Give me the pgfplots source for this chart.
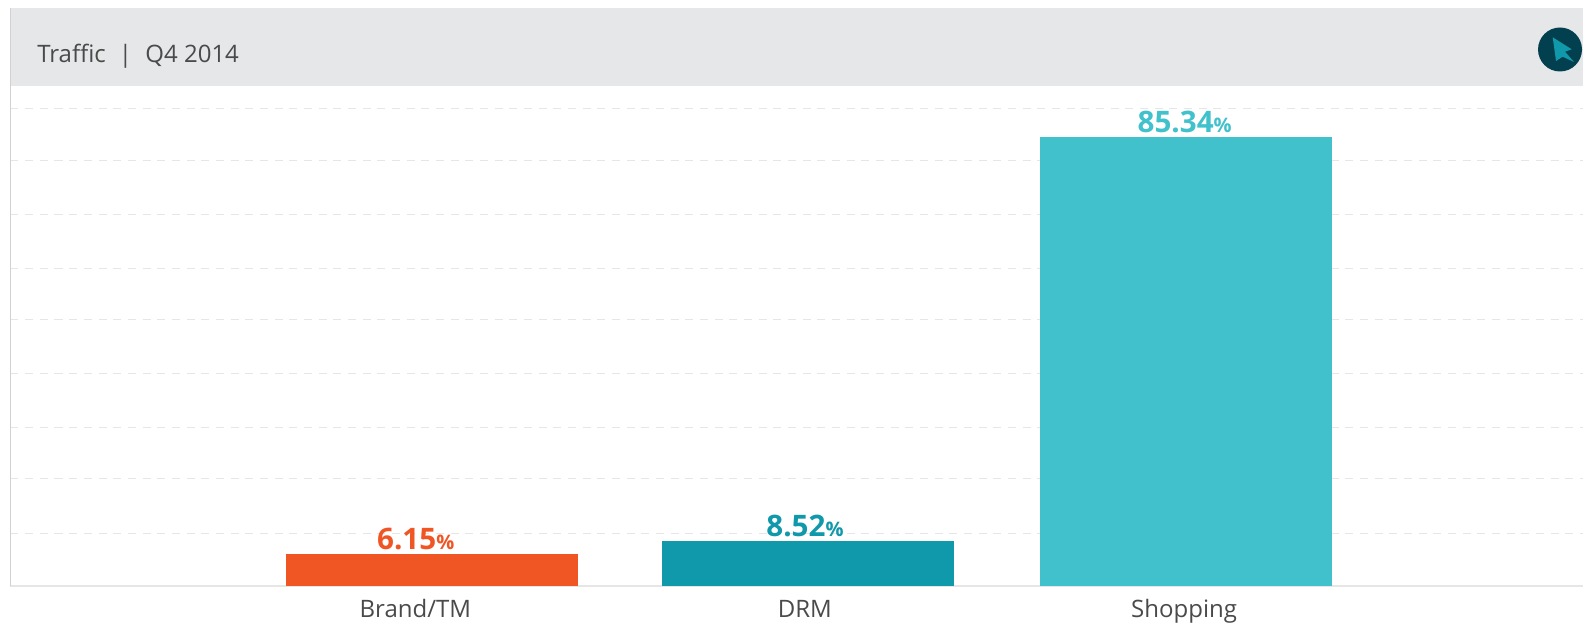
\documentclass[border=0pt]{standalone}
\usepackage{fontspec}
\setmainfont{Open Sans}
\usepackage{pgfplots}
\pgfplotsset{compat=1.18}
\definecolor{headerbg}{HTML}{E6E7E9}
\definecolor{brandc}{HTML}{F05524}
\definecolor{drmc}{HTML}{1098AB}
\definecolor{shopc}{HTML}{40C1CC}
\definecolor{inktext}{HTML}{4A4A4A}
\definecolor{gridc}{HTML}{E6E6E6}
\definecolor{badge}{HTML}{03404F}
% value label: large figures with a smaller percent sign
\newcommand{\pctlabel}{\fontsize{22.2}{24}\selectfont\bfseries
  \pgfmathprintnumber[fixed,fixed zerofill,precision=2,/pgf/number format/assume math mode=true]{\pgfplotspointmeta}%
  {\fontsize{15}{18}\selectfont\%}}
\begin{document}
\begin{tikzpicture}[x=0.75pt,y=0.75pt]
  \path[use as bounding box] (0,0) rectangle (1583,625);
  \begin{axis}[
    at={(7.875pt,29.25pt)}, anchor=south west,
    scale only axis,
    width=1179.375pt, height=375pt,
    xmin=-1.1180, xmax=3.0531,
    ymin=0, ymax=95.04,
    axis x line=bottom, axis y line=left,
    axis line style={-, draw=gridc, line width=1.1pt},
    xtick={-0.044,0.989,1.995},
    xticklabels={Brand/TM,DRM,Shopping},
    major tick length=0pt,
    xticklabel style={font=\fontsize{18}{21}\selectfont, text=inktext, anchor=base, yshift=-23.5pt},
    ytick={10.02,20.47,30.16,40.43,50.75,60.39,70.65,80.92,90.8},
    yticklabels={},
    ymajorgrids,
    grid style={draw=gridc, line width=0.75pt, dash pattern=on 6pt off 5pt},
    ybar, bar shift=0pt, bar width=219pt,
    nodes near coords={\pctlabel},
    nodes near coords style={anchor=base, yshift=3.4pt},
    every axis plot/.append style={draw=none},
    clip=false,
  ]
    \addplot[fill=brandc, nodes near coords style={text=brandc, xshift=-12.2pt}] coordinates {(0,6.15)};
    \addplot[fill=drmc, nodes near coords style={text=drmc, xshift=-2.3pt}] coordinates {(0.9975,8.52)};
    \addplot[fill=shopc, nodes near coords style={text=shopc, xshift=-1pt}] coordinates {(2,85.34)};
  \end{axis}
  % header band, frame line and cursor badge
  \fill[headerbg] (10.5,539) rectangle (1583,617);
  \draw[color=black!18, line width=0.9pt] (10.5,39) -- (10.5,617);
  \node[anchor=base west, inner sep=0pt, text=inktext, font=\fontsize{18}{21}\selectfont]
    at (37,562) {Traffic\hspace{0.55em}|\hspace{0.55em}Q4 2014};
  \begin{scope}
    \clip (0,0) rectangle (1583,625);
    \fill[badge] (1560,575.5) circle (22);
    \fill[drmc] (1552.7,587.7) -- (1571.7,575.7) -- (1565,573.3) -- (1574,563)
      -- (1562.7,568.3) -- (1556,564) -- cycle;
  \end{scope}
\end{tikzpicture}
\end{document}
